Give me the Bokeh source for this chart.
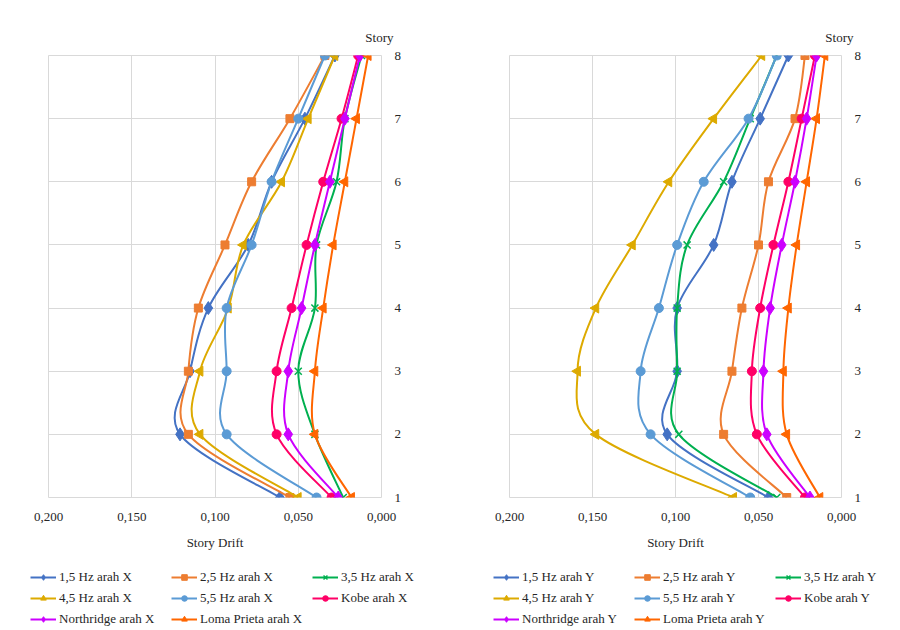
from bokeh.plotting import figure
from bokeh.models import Range1d, FixedTicker, Legend, LegendItem, Title, ColumnDataSource
from bokeh.layouts import row, column
from bokeh.embed import file_html
from bokeh.resources import INLINE
import math

# ---------------- data ----------------
stories = [1, 2, 3, 4, 5, 6, 7, 8]
x_ticks = [0.0, 0.05, 0.10, 0.15, 0.20]
x_tick_labels = ["0,000", "0,050", "0,100", "0,150", "0,200"]
y_ticks = [1, 2, 3, 4, 5, 6, 7, 8]

names = ["1,5 Hz", "2,5 Hz", "3,5 Hz", "4,5 Hz", "5,5 Hz", "Kobe", "Northridge", "Loma Prieta"]

# direction X
x_15 = [0.061, 0.121, 0.115, 0.104, 0.080, 0.066, 0.046, 0.028]
x_25 = [0.055, 0.116, 0.116, 0.110, 0.094, 0.078, 0.055, 0.034]
x_35 = [0.023, 0.040, 0.050, 0.040, 0.039, 0.027, 0.022, 0.012]
x_45 = [0.050, 0.109, 0.109, 0.092, 0.083, 0.060, 0.044, 0.028]
x_55 = [0.039, 0.093, 0.093, 0.093, 0.078, 0.066, 0.050, 0.034]
x_kobe = [0.030, 0.063, 0.063, 0.054, 0.045, 0.035, 0.024, 0.014]
x_north = [0.026, 0.056, 0.056, 0.048, 0.040, 0.031, 0.022, 0.013]
x_loma = [0.018, 0.040, 0.040, 0.035, 0.029, 0.022, 0.015, 0.008]

# direction Y
y_15 = [0.044, 0.105, 0.099, 0.099, 0.077, 0.066, 0.049, 0.032]
y_25 = [0.033, 0.071, 0.066, 0.060, 0.050, 0.044, 0.028, 0.022]
y_35 = [0.039, 0.098, 0.099, 0.099, 0.093, 0.071, 0.055, 0.039]
y_45 = [0.065, 0.148, 0.159, 0.148, 0.126, 0.104, 0.077, 0.048]
y_55 = [0.055, 0.115, 0.121, 0.110, 0.099, 0.083, 0.056, 0.039]
y_kobe = [0.022, 0.051, 0.054, 0.049, 0.041, 0.032, 0.024, 0.016]
y_north = [0.019, 0.045, 0.047, 0.043, 0.036, 0.028, 0.021, 0.015]
y_loma = [0.013, 0.033, 0.035, 0.032, 0.027, 0.021, 0.015, 0.010]

# ---------------- style ----------------
colors = ["#4472C4", "#ED7D31", "#00B050", "#DDAA00", "#5B9BD5", "#FF0066", "#CC00FF", "#FF6600"]
markers = ["diamond", "square", "x", "triangle", "circle", "circle", "diamond", "triangle"]
angles = [0, 0, 0, math.pi / 2, 0, 0, 0, math.pi / 2]
sizes = [13, 8, 10, 10, 9, 9, 13, 10]
leg_sizes = [11, 7, 9, 9, 8, 8, 11, 9]
FONT = "Liberation Serif"
TXT = "#262626"
GRID = "#D9D9D9"
NAN = float("nan")


def bezier_parts(xs, ys):
    n = len(xs)
    pts = list(zip(xs, ys))
    d = dict(x0=[], y0=[], x1=[], y1=[], cx0=[], cy0=[], cx1=[], cy1=[])
    for i in range(n - 1):
        p0 = pts[i - 1] if i > 0 else pts[i]
        p1 = pts[i]
        p2 = pts[i + 1]
        p3 = pts[i + 2] if i + 2 < n else pts[i + 1]
        d["x0"].append(p1[0]); d["y0"].append(p1[1])
        d["x1"].append(p2[0]); d["y1"].append(p2[1])
        d["cx0"].append(p1[0] + (p2[0] - p0[0]) / 6.0)
        d["cy0"].append(p1[1] + (p2[1] - p0[1]) / 6.0)
        d["cx1"].append(p2[0] - (p3[0] - p1[0]) / 6.0)
        d["cy1"].append(p2[1] - (p3[1] - p1[1]) / 6.0)
    return d


def make_panel(series, suffix, left, frame_w, right, leg_x):
    p = figure(frame_width=frame_w, frame_height=442,
               min_border_left=left, min_border_right=right,
               min_border_top=55, min_border_bottom=68,
               x_range=Range1d(0.2, 0.0), y_range=Range1d(1, 8),
               y_axis_location="right", output_backend="svg",
               toolbar_location=None)
    p.outline_line_color = GRID
    p.background_fill_color = "white"
    p.border_fill_color = "white"

    p.xaxis.ticker = FixedTicker(ticks=x_ticks)
    p.xaxis.major_label_overrides = {t: l for t, l in zip(x_ticks, x_tick_labels)}
    p.yaxis.ticker = FixedTicker(ticks=y_ticks)
    p.xgrid.ticker = FixedTicker(ticks=x_ticks)
    p.ygrid.ticker = FixedTicker(ticks=y_ticks)
    for g in (p.xgrid, p.ygrid):
        g.grid_line_color = GRID
        g.grid_line_width = 1
    for ax in (p.xaxis, p.yaxis):
        ax.axis_line_color = None
        ax.major_tick_line_color = None
        ax.minor_tick_line_color = None
        ax.major_label_text_font = FONT
        ax.major_label_text_font_size = "13px"
        ax.major_label_text_color = TXT
    p.xaxis.major_label_standoff = 9
    p.yaxis.major_label_standoff = 7
    p.xaxis.axis_label = "Story Drift"
    p.xaxis.axis_label_text_font = FONT
    p.xaxis.axis_label_text_font_style = "normal"
    p.xaxis.axis_label_text_font_size = "13px"
    p.xaxis.axis_label_text_color = TXT
    p.xaxis.axis_label_standoff = 11

    p.add_layout(Title(text="Story", align="right", offset=-12, standoff=21,
                       text_font=FONT, text_font_size="13px",
                       text_font_style="normal", text_color=TXT), "above")

    # legend strip below the chart (full-width frame)
    lf = figure(width=450, height=65,
                min_border_left=0, min_border_right=0,
                min_border_top=0, min_border_bottom=0,
                x_range=Range1d(0, 1), y_range=Range1d(0, 1),
                x_axis_type=None, y_axis_type=None, output_backend="svg",
                toolbar_location=None)
    lf.outline_line_color = None
    lf.grid.visible = False
    lf.background_fill_color = "white"
    lf.border_fill_color = "white"

    items = []
    for i, xs in enumerate(series):
        c = colors[i]
        src = ColumnDataSource(bezier_parts(xs, stories))
        p.bezier(x0="x0", y0="y0", x1="x1", y1="y1", cx0="cx0", cy0="cy0",
                 cx1="cx1", cy1="cy1", source=src, line_color=c, line_width=2)
        if markers[i] == "x":
            p.scatter(xs, stories, marker="x", size=sizes[i], line_color=c, line_width=1.5)
        else:
            p.scatter(xs, stories, marker=markers[i], size=sizes[i], angle=angles[i],
                      fill_color=c, line_color=c)
        # legend proxies (not visible: NaN position)
        lr = lf.line([NAN], [NAN], line_color=c, line_width=2)
        if markers[i] == "x":
            mr = lf.scatter([NAN], [NAN], marker="x", size=leg_sizes[i], line_color=c, line_width=1.5)
        else:
            mr = lf.scatter([NAN], [NAN], marker=markers[i], size=leg_sizes[i], fill_color=c, line_color=c)
        items.append(LegendItem(label=names[i] + " arah " + suffix, renderers=[lr, mr]))

    leg = Legend(items=items, orientation="horizontal", ncols=3,
                 location=(leg_x, 3), border_line_color=None,
                 background_fill_alpha=0, label_text_font=FONT,
                 label_text_font_size="13px", label_text_color=TXT,
                 glyph_width=26, glyph_height=14, label_standoff=3,
                 spacing=5, padding=0, margin=0, label_height=14, label_width=107)
    lf.add_layout(leg, "center")
    return p, lf


pl, ll = make_panel([x_15, x_25, x_35, x_45, x_55, x_kobe, x_north, x_loma], "X", 48, 333, 69, 30)
pr, lr_ = make_panel([y_15, y_25, y_35, y_45, y_55, y_kobe, y_north, y_loma], "Y", 59, 332, 59, 43)

layout = column(row(pl, pr, spacing=0), row(ll, lr_, spacing=0), spacing=0)
open("out.html", "w").write(file_html(layout, INLINE))
